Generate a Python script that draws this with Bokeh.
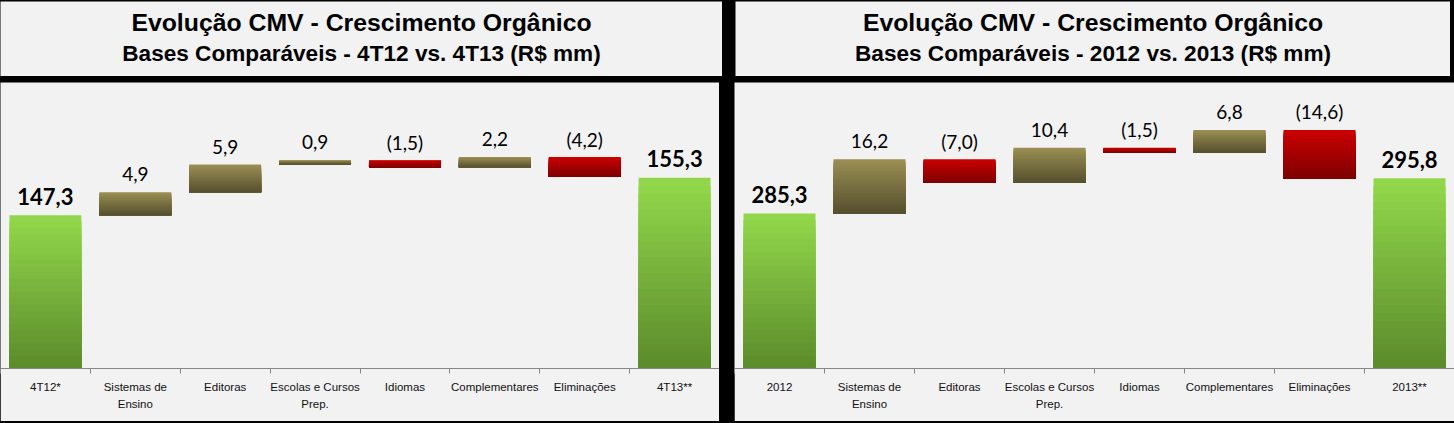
from bokeh.plotting import figure
from bokeh.models import LinearAxis, FixedTicker, Spacer, Range1d
from bokeh.layouts import row, column
from bokeh.core.properties import value
from bokeh.embed import file_html
from bokeh.resources import INLINE

# ---------------- data ----------------
title1_l = "Evolução CMV - Crescimento Orgânico"
title2_l = "Bases Comparáveis - 4T12 vs. 4T13 (R$ mm)"
title1_r = "Evolução CMV - Crescimento Orgânico"
title2_r = "Bases Comparáveis - 2012 vs. 2013 (R$ mm)"

categories_l = ["4T12*", "Sistemas de\nEnsino", "Editoras", "Escolas e Cursos\nPrep.",
                "Idiomas", "Complementares", "Eliminações", "4T13**"]
values_l = [147.3, 4.9, 5.9, 0.9, -1.5, 2.2, -4.2, 155.3]

categories_r = ["2012", "Sistemas de\nEnsino", "Editoras", "Escolas e Cursos\nPrep.",
                "Idiomas", "Complementares", "Eliminações", "2013**"]
values_r = [285.3, 16.2, -7.0, 10.4, -1.5, 6.8, -14.6, 295.8]

# axis windows (truncated value axes as in the original)
yrange_l = (114.6, 175.6)
yrange_r = (239.2, 324.3)

# ---------------- style ----------------
BG = "#f2f2f2"
AXIS = "#868686"
COL_TOTAL = ("#93d94c", "#5b8a2b")
COL_POS = ("#9b9054", "#554f2e")
COL_NEG = ("#cc0000", "#7d0000")
NBANDS = 24


def hex2rgb(h):
    h = h.lstrip("#")
    return tuple(int(h[i:i + 2], 16) for i in (0, 2, 4))


def mix(c1, c2, t):
    a, b = hex2rgb(c1), hex2rgb(c2)
    return "#%02x%02x%02x" % tuple(int(round(a[k] + (b[k] - a[k]) * t)) for k in range(3))


def fmt(v):
    s = f"{abs(v):.1f}".replace(".", ",")
    return f"({s})" if v < 0 else s


def chart(cats, vals, yr, width):
    n = len(cats)
    p = figure(width=width, height=339, x_range=Range1d(0, n), y_range=Range1d(*yr),
               output_backend="svg", toolbar_location=None,
               x_axis_location=None, y_axis_location=None,
               min_border_left=0, min_border_right=0, min_border_top=0, min_border_bottom=53,
               background_fill_color=BG, border_fill_color=BG, outline_line_color=None)
    p.grid.grid_line_color = None

    cum = 0.0
    lefts, rights, tops, bottoms, colors = [], [], [], [], []
    tx_tot, ty_tot, tt_tot = [], [], []
    tx_d, ty_d, tt_d = [], [], []
    for i, v in enumerate(vals):
        if i == 0 or i == n - 1:
            bot, top, cc = yr[0], v, COL_TOTAL
            cum = v
            tx_tot.append(i + 0.5); ty_tot.append(top); tt_tot.append(fmt(v))
        else:
            b = cum
            cum = cum + v
            bot, top = min(b, cum), max(b, cum)
            cc = COL_POS if v >= 0 else COL_NEG
            tx_d.append(i + 0.5); ty_d.append(top); tt_d.append(fmt(v))
        h = top - bot
        # vertical gradient: stacked layers, each reaching down to the bar bottom
        for k in range(NBANDS):
            lefts.append(i + 0.1)
            rights.append(i + 0.9)
            tops.append(top - h * k / NBANDS)
            bottoms.append(bot)
            colors.append(mix(cc[0], cc[1], (k + 0.5) / NBANDS))
    p.quad(left=lefts, right=rights, top=tops, bottom=bottoms,
           fill_color=colors, line_color=None)

    p.text(x=tx_tot, y=ty_tot, text=tt_tot, text_align="center", text_baseline="middle",
           y_offset=-19, text_font=value("Lato"), text_font_size="22px",
           text_font_style="bold", text_color="#000000")
    p.text(x=tx_d, y=ty_d, text=tt_d, text_align="center", text_baseline="middle",
           y_offset=-18, text_font=value("Lato"), text_font_size="19px",
           text_color="#000000")

    centers = [i + 0.5 for i in range(n)]
    ax = LinearAxis(ticker=FixedTicker(ticks=centers, minor_ticks=list(range(n + 1))),
                    major_label_overrides={c: lab for c, lab in zip(centers, cats)})
    ax.axis_line_color = AXIS
    ax.major_tick_line_color = None
    ax.minor_tick_line_color = AXIS
    ax.minor_tick_in = 0
    ax.minor_tick_out = 5
    ax.major_label_standoff = 6
    ax.major_label_text_font = "Liberation Sans"
    ax.major_label_text_font_size = "11.5px"
    ax.major_label_text_color = "#111111"
    ax.major_label_text_line_height = 1.45
    p.add_layout(ax, "below")
    return p


def title_fig(width, l1, l2):
    t = figure(width=width, height=75, x_range=Range1d(0, 1), y_range=Range1d(0, 1),
               output_backend="svg", toolbar_location=None,
               x_axis_location=None, y_axis_location=None, min_border=0,
               background_fill_color=BG, border_fill_color=BG, outline_line_color=None)
    t.grid.grid_line_color = None
    t.text(x=[0.5], y=[0.72], text=[l1], text_align="center", text_baseline="middle",
           text_font=value("Liberation Sans"), text_font_size="24.8px",
           text_font_style="bold", text_color="#000000")
    t.text(x=[0.5], y=[0.31], text=[l2], text_align="center", text_baseline="middle",
           text_font=value("Liberation Sans"), text_font_size="22.6px",
           text_font_style="bold", text_color="#000000")
    return t


tl = title_fig(722, title1_l, title2_l)
tr = title_fig(715, title1_r, title2_r)
cl = chart(categories_l, values_l, yrange_l, 719)
cr = chart(categories_r, values_r, yrange_r, 720)

page = column(
    Spacer(width=1454, height=1),
    row(tl, Spacer(width=13, height=75), tr, Spacer(width=4, height=75)),
    Spacer(width=1454, height=6),
    row(cl, Spacer(width=15, height=339), cr),
    Spacer(width=1454, height=2),
    styles={"background-color": "black"},
)

open("out.html", "w").write(file_html(page, INLINE))
